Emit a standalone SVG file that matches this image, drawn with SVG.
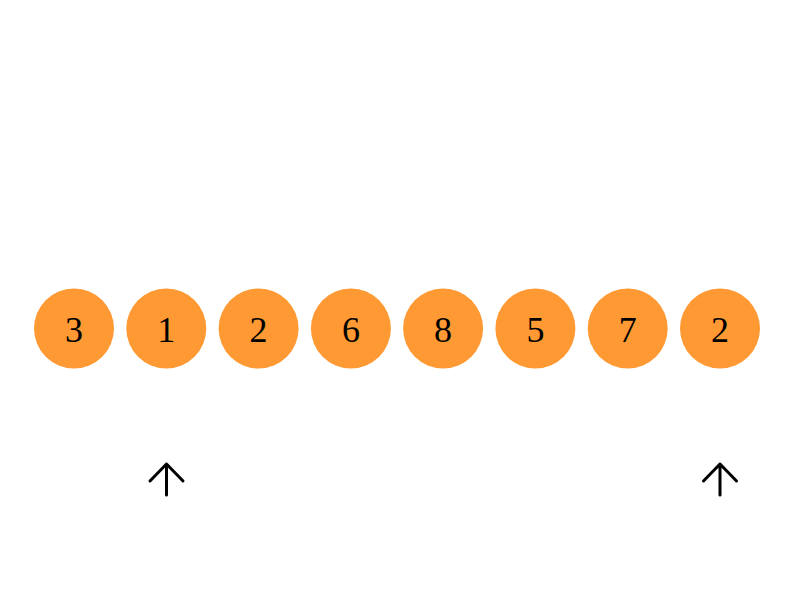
<svg xmlns="http://www.w3.org/2000/svg" width="800" height="600" viewBox="0 0 800 600">
<style>
.n circle{fill:#ff9933}
.n text{font-family:"Liberation Serif","Times New Roman",serif;font-size:36px;fill:#000;text-anchor:middle}
.a{stroke:#000;stroke-width:3;fill:none;stroke-linecap:round;stroke-linejoin:round}
</style>
<rect width="800" height="600" fill="#fff"/>
<g id="node0" class="n"><circle cx="74" cy="328.5" r="40"/><text x="74" y="341.5">3</text></g>
<g id="node1" class="n"><circle cx="166.3" cy="328.5" r="40"/><text x="166.3" y="341.5">1</text></g>
<g id="node2" class="n"><circle cx="258.6" cy="328.5" r="40"/><text x="258.6" y="341.5">2</text></g>
<g id="node3" class="n"><circle cx="350.9" cy="328.5" r="40"/><text x="350.9" y="341.5">6</text></g>
<g id="node4" class="n"><circle cx="443.1" cy="328.5" r="40"/><text x="443.1" y="341.5">8</text></g>
<g id="node5" class="n"><circle cx="535.4" cy="328.5" r="40"/><text x="535.4" y="341.5">5</text></g>
<g id="node6" class="n"><circle cx="627.7" cy="328.5" r="40"/><text x="627.7" y="341.5">7</text></g>
<g id="node7" class="n"><circle cx="720" cy="328.5" r="40"/><text x="720" y="341.5">2</text></g>
<g id="connectors">
<path class="a" d="M166.5 495V464M150 481L166.5 464L183 481"/>
<path class="a" d="M720 495V464M703.5 481L720 464L736.5 481"/>
</g>
</svg>
